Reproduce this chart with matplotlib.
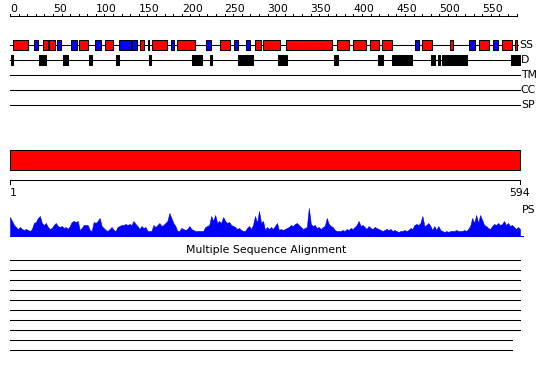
import numpy as np
import matplotlib
matplotlib.use("Agg")
import matplotlib.pyplot as plt

plt.rcParams['font.family'] = ['DejaVu Sans']

# sequence length
seq_len = 594

# secondary structure: helices (red) and strands (blue), residue ranges
helices = [(3, 21), (39, 44), (46, 52), (80, 91), (111, 120), (151, 156),
           (165, 183), (195, 215), (245, 256), (285, 292), (295, 314),
           (321, 375), (381, 395), (400, 415), (419, 430), (433, 445),
           (480, 491), (512, 516), (546, 558), (573, 585), (588, 591)]
strands = [(28, 33), (55, 59), (71, 78), (99, 106), (127, 141), (142, 148),
           (161, 162), (187, 191), (228, 234), (261, 266), (275, 279),
           (472, 476), (535, 542), (563, 568)]

# disordered regions
disorder = [(1, 4), (34, 38), (40, 42), (62, 67), (92, 96), (123, 127),
            (162, 164), (212, 224), (233, 235), (265, 283), (312, 323),
            (377, 382), (429, 434), (445, 468), (490, 492), (493, 495),
            (499, 501), (503, 532), (584, 594)]

# TM, CC, SP: no hits
tm_hits = []
cc_hits = []
sp_hits = []

# profile score (PS), sampled evenly along the sequence
ps_score = [19, 15, 11, 9, 7, 9, 7, 6, 7, 6, 5, 7, 13, 14, 18, 20, 13, 11, 13, 9,
            7, 8, 11, 13, 10, 9, 10, 8, 9, 7, 10, 14, 15, 14, 15, 6, 8, 11, 11, 11,
            6, 5,
            14, 13, 15, 18, 10, 8, 6, 5, 7, 9, 6, 5, 9, 10, 11, 11, 12, 11, 12, 11,
            15, 12, 10, 7, 10, 8, 9, 5, 5, 5, 11, 9, 11, 13, 10, 11, 13, 15, 23, 18,
            13, 10, 5, 5,
            8, 7, 6, 7, 10, 7, 6, 5, 5, 5, 5, 5, 9, 10, 11, 20, 15, 21, 13, 15,
            13, 19, 15, 13, 14, 11, 10, 9, 7, 8, 6, 5, 5, 8, 10, 7, 11, 20, 13, 25,
            13, 15, 6,
            9, 7, 9, 7, 10, 13, 6, 7, 6, 7, 8, 9, 11, 10, 12, 13, 11, 9, 7, 8,
            9, 28, 12, 10, 11, 8, 9, 7, 9, 10, 18, 12, 10, 9, 6, 5, 5, 5, 6, 5,
            7, 6, 8,
            7, 9, 11, 15, 10, 11, 9, 7, 10, 8, 7, 9, 8, 7, 6, 5, 6, 7, 6, 7,
            5, 6, 5, 4, 5, 5, 6, 5, 6, 8, 7, 11, 12, 11, 13, 20, 10, 11, 13, 10,
            6, 10, 6,
            10, 6, 5, 4, 5, 4, 5, 5, 5, 6, 5, 5, 5, 6, 5, 7, 10, 18, 13, 21,
            13, 21, 16, 11, 10, 8, 7, 10, 12, 11, 13, 11, 12, 15, 11, 13, 10, 11, 9, 7,
            9, 7]

# multiple sequence alignment hits, one list of segments per row
msa_rows = [
    [(1, 594)], [(1, 594)], [(1, 594)], [(1, 594)],
    [(1, 594)], [(1, 594)], [(1, 320), (322, 594)], [(1, 594)],
    [(1, 585)], [(1, 320), (322, 585)],
]

tick_labels = list(range(0, 551, 50))

# layout (pixel rows)
px_per_res = 510 / 594
fig = plt.figure(figsize=(5.5, 3.8), dpi=100)
ax = fig.add_axes([0, 0, 1, 1])
ax.set_xlim(-10 / px_per_res, 540 / px_per_res)
ax.set_ylim(380, 0)
ax.axis('off')

fs = 7.8
lw = 0.75

# top ruler
ruler_y = 16
ax.plot([0, 590], [ruler_y, ruler_y], color='black', lw=lw)
for t in range(0, 591, 10):
    ax.plot([t, t], [ruler_y, ruler_y - 2.5], color='black', lw=lw)
for t in tick_labels:
    ax.text(t, ruler_y - 1.5, str(t), fontsize=fs, ha='left', va='bottom')


def row(y, segs, color, label, h=10):
    ax.plot([0, seq_len], [y, y], color='black', lw=lw, zorder=1)
    if segs:
        ax.broken_barh([(s, e - s) for s, e in segs], (y - h / 2, h),
                       facecolors=color, edgecolors='black', linewidth=lw, zorder=2)
    if label:
        ax.text(seq_len + 1, y, label, fontsize=fs, ha='left', va='center')


# SS row (helices + strands)
ss_y = 45
ax.plot([0, seq_len - 2], [ss_y, ss_y], color='black', lw=lw, zorder=1)
ax.broken_barh([(s, e - s) for s, e in helices], (ss_y - 5, 10),
               facecolors='#ff0000', edgecolors='black', linewidth=lw, zorder=2)
ax.broken_barh([(s, e - s) for s, e in strands], (ss_y - 5, 10),
               facecolors='#0000ff', edgecolors='black', linewidth=lw, zorder=2)
ax.text(seq_len - 1, ss_y, 'SS', fontsize=fs, ha='left', va='center')

row(60, disorder, 'black', 'D')
row(75, tm_hits, 'black', 'TM')
row(90, cc_hits, 'black', 'CC')
row(105, sp_hits, 'black', 'SP')

# domain bar
ax.broken_barh([(0, seq_len)], (150, 20), facecolors='#ff0000',
               edgecolors='black', linewidth=lw)

# bottom ruler
br_y = 180
ax.plot([0, seq_len], [br_y, br_y], color='black', lw=lw)
ax.plot([0, 0], [br_y, br_y + 4], color='black', lw=lw)
ax.plot([seq_len, seq_len], [br_y, br_y + 4], color='black', lw=lw)
ax.text(0, br_y + 8, '1', fontsize=fs, ha='left', va='top')
ax.text(seq_len, br_y + 8, str(seq_len), fontsize=fs, ha='center', va='top')
ax.text(seq_len + 2, 210, 'PS', fontsize=fs, ha='left', va='center')

# PS profile
ps_base = 236
ps_x = np.linspace(0, seq_len, len(ps_score))
ps = np.array(ps_score)
ax.fill_between(ps_x, ps_base, ps_base - ps, color='#0000ff', lw=0.4)
ax.plot([0, seq_len + 3], [ps_base, ps_base], color='#0000ff', lw=lw)

# multiple sequence alignment
ax.text(seq_len / 2 + 1, 250, 'Multiple Sequence Alignment', fontsize=fs,
        ha='center', va='center')
for i, segs in enumerate(msa_rows):
    y = 260 + 10 * i
    for s, e in segs:
        ax.plot([s - 1, e], [y, y], color='black', lw=lw)

fig.savefig('out.png', dpi=100)
